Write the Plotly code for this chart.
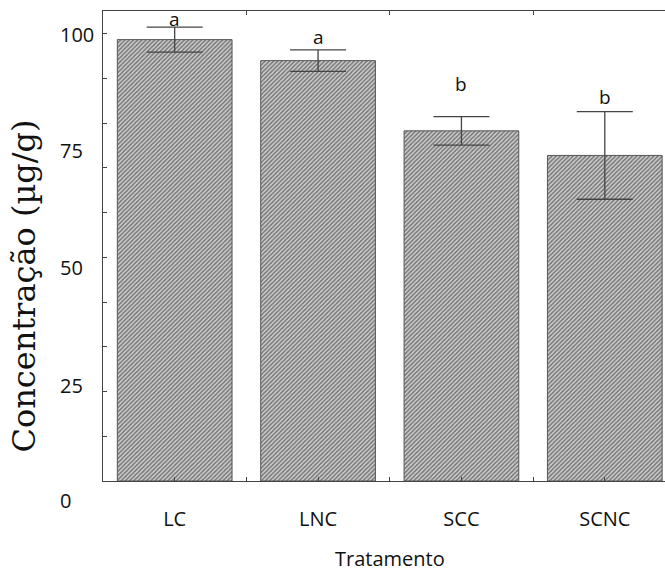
import plotly.graph_objects as go

categories = ["LC", "LNC", "SCC", "SCNC"]
means = [98.7, 94.0, 78.3, 72.8]
errors = [2.8, 2.4, 3.2, 9.8]
letters = ["a", "a", "b", "b"]
y_labels = [0, 25, 50, 75, 100]

W, H = 665, 571
L, R, T, B = 102.5, 0, 11, 90
plot_w = W - L - R
plot_h = H - T - B

def px_x(p):
    return (p - L) / plot_w

def px_y(p):
    return (H - B - p) / plot_h

xpos = list(range(len(categories)))
sans = "Open Sans"

fig = go.Figure()
fig.add_trace(go.Bar(
    x=xpos, y=means, width=0.8,
    marker=dict(color="#b0b0b0",
                line=dict(color="#555555", width=1),
                pattern=dict(shape="/", bgcolor="#d2d2d2", fgcolor="#747474",
                             size=3, solidity=0.5, fillmode="replace")),
    error_y=dict(type="data", array=errors, visible=True,
                 color="#444444", thickness=1.3, width=28),
    showlegend=False,
))
# invisible trace to anchor the top axis
fig.add_trace(go.Scatter(x=[xpos[0]], y=[0], xaxis="x2", mode="markers",
                         marker=dict(opacity=0), showlegend=False, hoverinfo="skip"))

ticks_x = [i * 0.5 for i in range(0, 2 * len(categories))]
ticks_x_text = [categories[int(v)] if v == int(v) else "" for v in ticks_x]

fig.update_layout(
    width=W, height=H,
    margin=dict(l=L, r=R, t=T, b=B),
    paper_bgcolor="white", plot_bgcolor="white",
    bargap=0.2,
    xaxis=dict(range=[-0.5, -0.5 + plot_w / 143.5], tickvals=ticks_x, ticktext=ticks_x_text,
               ticks="inside", ticklen=4, tickcolor="#444", showline=True, linecolor="#444",
               linewidth=1.2, showgrid=False, zeroline=False,
               tickfont=dict(family=sans, size=20, color="#111"), ticklabelstandoff=20),
    xaxis2=dict(overlaying="x", side="top", anchor="y", matches="x",
                tickvals=[0.5, 1.5, 2.5], ticks="inside", ticklen=4, tickcolor="#444",
                showline=True, linecolor="#444", linewidth=1.2, showticklabels=False,
                showgrid=False, zeroline=False),
    yaxis=dict(range=[0, 105.1], tickvals=list(range(0, 101, 10)), showticklabels=False,
               ticks="inside", ticklen=4, tickcolor="#444", showline=True, linecolor="#444",
               linewidth=1.2, showgrid=False, zeroline=False),
)

annotations = []
label_px = {0: 500, 25: 385, 50: 267, 75: 150, 100: 34}
for v in y_labels:
    annotations.append(dict(xref="paper", yref="paper", x=px_x(57), y=px_y(label_px[v]),
                            text=str(v), showarrow=False, xanchor="left", yanchor="middle",
                            font=dict(family=sans, size=20, color="#111")))
shifts = [8, 13, 33, 15]
for i, (m, e, t) in enumerate(zip(means, errors, letters)):
    annotations.append(dict(x=xpos[i], y=m + e, text=t, showarrow=False,
                            yanchor="middle", yshift=shifts[i],
                            font=dict(family=sans, size=19, color="#111")))
annotations.append(dict(xref="paper", yref="paper", x=px_x(390), y=px_y(558),
                        text="Tratamento", showarrow=False, xanchor="center", yanchor="middle",
                        font=dict(family=sans, size=20, color="#111")))
annotations.append(dict(xref="paper", yref="paper", x=px_x(23), y=px_y(286),
                        text="Concentração (µg/g)", showarrow=False, textangle=-90,
                        xanchor="center", yanchor="middle",
                        font=dict(family="DejaVu Serif", size=32, color="#111")))
fig.update_layout(annotations=annotations)

fig.write_html("out.html")
